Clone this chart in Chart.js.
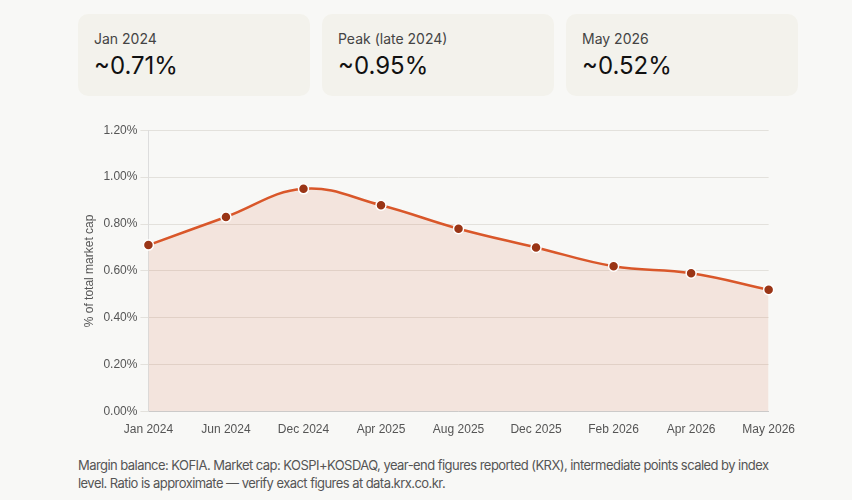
<!DOCTYPE html>
<html>
<head>
<meta charset="utf-8">
<script src="https://cdn.jsdelivr.net/npm/chart.js@4.4.1/dist/chart.umd.min.js"></script>
<style>
  html, body { margin: 0; padding: 0; }
  body {
    width: 852px; height: 500px; overflow: hidden;
    background: #f8f8f6;
    font-family: Inter, "Noto Sans", sans-serif;
    position: relative;
  }
  .cards {
    position: absolute; left: 78px; top: 14px; width: 720px;
    display: flex; gap: 12px;
  }
  .card {
    flex: 1; height: 82px; box-sizing: border-box;
    background: #f3f2ec; border-radius: 10px;
    padding: 16px 16px;
  }
  .card .label { font-size: 14px; color: #444; line-height: 18px; }
  .card .value { font-size: 24px; color: #111; line-height: 32px; margin-top: 2px; }
  .chart-wrap {
    position: absolute; left: 78px; top: 120px; width: 720px; height: 320px;
  }
  .note {
    position: absolute; left: 78px; top: 456px; width: 720px;
    font-size: 13px; letter-spacing: -0.55px; line-height: 18px; color: #555;
  }
</style>
</head>
<body>
  <div class="cards">
    <div class="card"><div class="label">Jan 2024</div><div class="value">~0.71%</div></div>
    <div class="card"><div class="label">Peak (late 2024)</div><div class="value">~0.95%</div></div>
    <div class="card"><div class="label">May 2026</div><div class="value">~0.52%</div></div>
  </div>
  <div class="chart-wrap"><canvas id="ratioChart"></canvas></div>
  <div class="note">Margin balance: KOFIA. Market cap: KOSPI+KOSDAQ, year-end figures reported (KRX), intermediate points scaled by index level. Ratio is approximate — verify exact figures at data.krx.co.kr.</div>

<script>
  // Data
  const periods = ['Jan 2024', 'Jun 2024', 'Dec 2024', 'Apr 2025', 'Aug 2025', 'Dec 2025', 'Feb 2026', 'Apr 2026', 'May 2026'];
  const ratioValues = [0.71, 0.83, 0.95, 0.88, 0.78, 0.70, 0.62, 0.59, 0.52];

  const tickFont = { family: '"Liberation Sans", Arial, sans-serif', size: 12 };

  new Chart(document.getElementById('ratioChart'), {
    type: 'line',
    data: {
      labels: periods,
      datasets: [{
        data: ratioValues,
        borderColor: '#d9572a',
        borderWidth: 2.5,
        backgroundColor: 'rgba(217, 87, 42, 0.12)',
        fill: true,
        tension: 0.4,
        pointRadius: 5,
        pointBackgroundColor: '#9a3516',
        pointBorderColor: '#ffffff',
        pointBorderWidth: 1.5
      }]
    },
    options: {
      responsive: true,
      maintainAspectRatio: false,
      animation: false,
      plugins: {
        legend: { display: false },
        tooltip: { enabled: false }
      },
      scales: {
        x: {
          offset: false,
          grid: { display: false },
          border: { color: '#cccccc' },
          ticks: { color: '#555', font: tickFont, maxRotation: 0, autoSkip: false }
        },
        y: {
          min: 0,
          max: 1.2,
          grid: { color: '#e3e1dc' },
          border: { color: '#dddddd' },
          ticks: {
            stepSize: 0.2,
            color: '#555',
            font: tickFont,
            callback: (v) => v.toFixed(2) + '%'
          },
          title: {
            display: true,
            text: '% of total market cap',
            color: '#555',
            font: tickFont
          }
        }
      }
    }
  });
</script>
</body>
</html>
